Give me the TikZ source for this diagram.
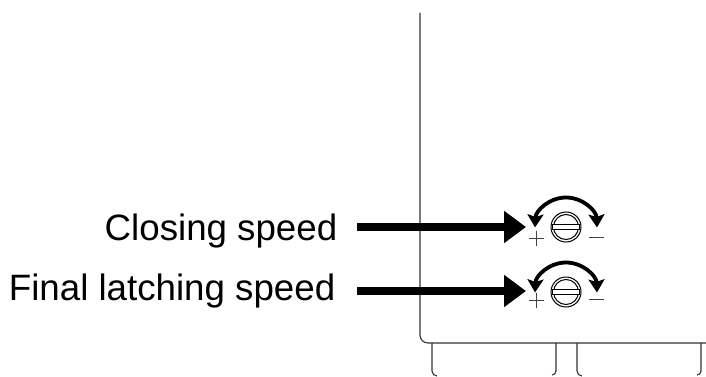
\documentclass[tikz,border=0pt]{standalone}
\usepackage{fontspec}
\setmainfont{Liberation Sans}
\usetikzlibrary{arrows.meta}
\tikzset{
  label text/.style={anchor=base east,inner sep=0pt,font=\fontsize{36.7}{40}\selectfont},
  outline/.style={draw=black!80,line width=1.1pt},
  bigarrow/.style={line width=8pt,-{Triangle[length=22pt,width=31pt]}},
  turn/.style={line width=3.8pt,-{Stealth[length=13pt,width=16pt,inset=2.5pt]}},
  sign/.style={draw=black!75,line width=1pt},
}
\newcommand{\screw}[3]{%
  \begin{scope}[shift={(#1,#2)}]
    \draw[line width=1pt] (0,0) circle (15);
    \draw[line width=1pt] (0,0) circle (12.5);
    \draw[line width=1pt,fill=white] (-13.5,-3) rectangle (13.5,2.5);
    \draw[turn] (0,-29.5) arc[start angle=-90,end angle=-178,radius=31];
    \draw[turn] (0,-29.5) arc[start angle=-90,end angle=-2,radius=31];
    \draw[sign] (-37,#3+1) -- (-22,#3+1) (-29.5,#3-6.5) -- (-29.5,#3+8.5);
    \draw[sign] (23,#3) -- (38,#3);
  \end{scope}}
\begin{document}
\begin{tikzpicture}[x=1pt,y=-1pt]
  \useasboundingbox (0,0) rectangle (706,377);
  \fill[white] (0,0) rectangle (706,377);
  \draw[outline] (420,13) -- (420,335) arc[start angle=180,end angle=270,radius=8,y radius=-8] -- (706,343);
  \draw[outline] (432,343) -- (432,371) arc[start angle=180,end angle=270,radius=5,y radius=-5];
  \draw[outline] (556,343) -- (556,371) arc[start angle=0,end angle=-90,radius=4,y radius=-4];
  \draw[outline] (577,343) -- (577,371) arc[start angle=180,end angle=270,radius=5,y radius=-5];
  \draw[outline] (701,343) -- (701,371) arc[start angle=0,end angle=-90,radius=4,y radius=-4];
  \node[label text] (closing) at (337.5,240) {Closing speed};
  \node[label text] (final) at (335.5,300) {Final latching speed};
  \coordinate (a1) at (357,227);
  \coordinate (a2) at (526,227);
  \coordinate (b1) at (357,291);
  \coordinate (b2) at (526,291);
  \draw[bigarrow] (a1) -- (a2);
  \draw[bigarrow] (b1) -- (b2);
  \screw{566}{227}{10}
  \screw{566}{292}{7}
\end{tikzpicture}
\end{document}
